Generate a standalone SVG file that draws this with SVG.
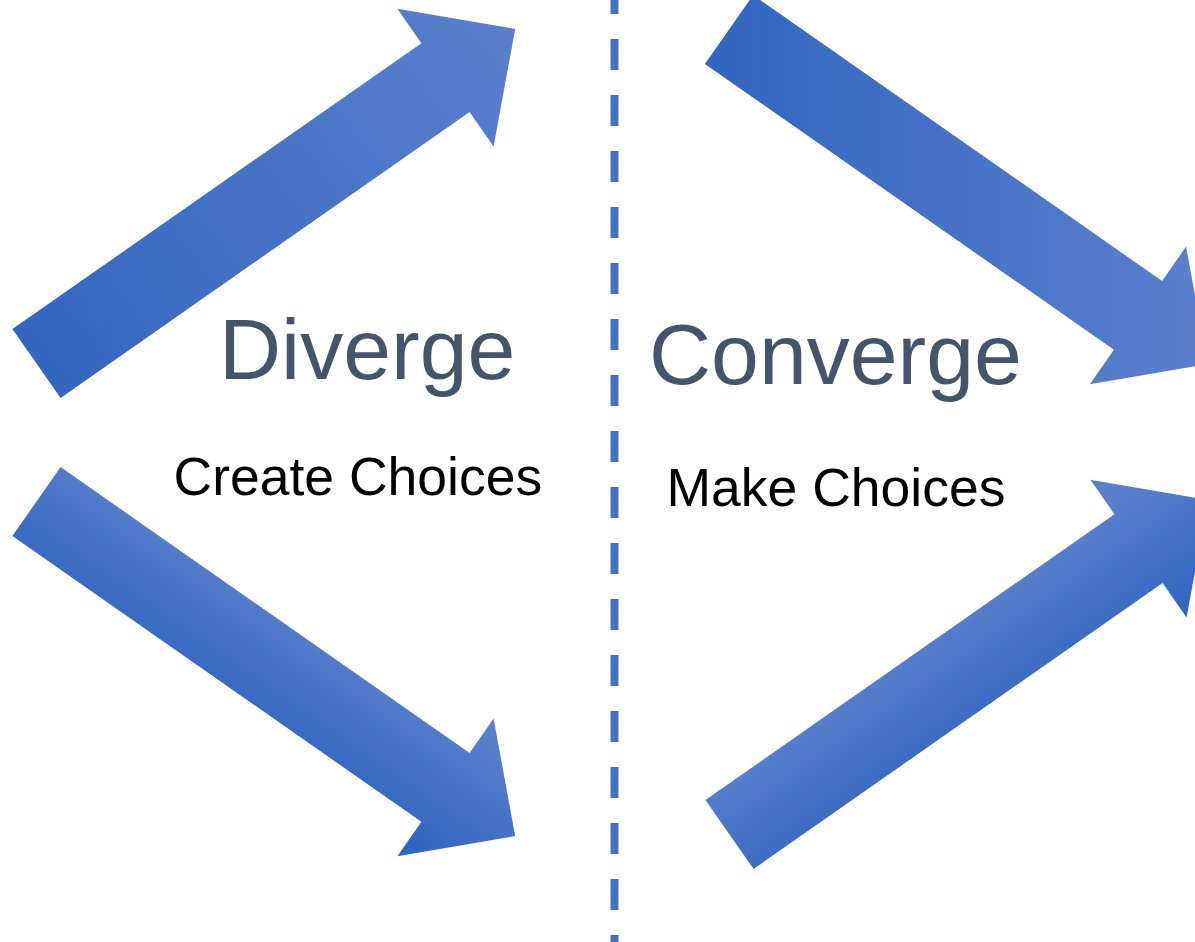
<svg xmlns="http://www.w3.org/2000/svg" width="1195" height="942" viewBox="0 0 1195 942">
  <defs>
    <style>
      .title { font-family: "Liberation Sans", Arial, sans-serif; font-size: 86px; fill: #44546A; }
      .sub { font-family: "Liberation Sans", Arial, sans-serif; font-size: 53.5px; fill: #000000; }
      .divider { stroke: #4472C4; stroke-width: 8; stroke-dasharray: 31 25; fill: none; }
    </style>
    <linearGradient id="g1" gradientUnits="userSpaceOnUse" x1="515" y1="29" x2="36" y2="398">
      <stop offset="0" stop-color="#5A80CC"/>
      <stop offset="1" stop-color="#3265C0"/>
    </linearGradient>
    <linearGradient id="g2" gradientUnits="userSpaceOnUse" x1="314" y1="614" x2="238" y2="723">
      <stop offset="0" stop-color="#5A80CC"/>
      <stop offset="1" stop-color="#3265C0"/>
    </linearGradient>
    <linearGradient id="g3" gradientUnits="userSpaceOnUse" x1="704" y1="0" x2="1200" y2="0">
      <stop offset="0" stop-color="#3265C0"/>
      <stop offset="1" stop-color="#5A80CC"/>
    </linearGradient>
    <linearGradient id="g4" gradientUnits="userSpaceOnUse" x1="931" y1="625" x2="1007" y2="734">
      <stop offset="0" stop-color="#5A80CC"/>
      <stop offset="1" stop-color="#3265C0"/>
    </linearGradient>
  </defs>
  <rect width="1195" height="942" fill="#FFFFFF"/>
  <g id="connectors">
    <line class="divider" x1="614.5" y1="-17" x2="614.5" y2="942"/>
  </g>
  <g id="arrow-diverge-up">
    <polygon fill="url(#g1)" points="12.4,329.1 421.4,43.2 397.4,8.7 515.2,28.9 493.6,146.4 469.6,112.0 60.6,397.9"/>
  </g>
  <g id="arrow-diverge-down">
    <polygon fill="url(#g2)" points="12.4,535.9 421.4,821.8 397.4,856.3 515.2,836.1 493.6,718.6 469.6,753.0 60.6,467.1"/>
  </g>
  <g id="arrow-converge-down">
    <polygon fill="url(#g3)" points="704.9,63.9 1113.9,349.8 1089.9,384.3 1207.7,364.1 1186.1,246.6 1162.1,281.0 753.1,-4.9"/>
  </g>
  <g id="arrow-converge-up">
    <polygon fill="url(#g4)" points="705.4,800.1 1114.4,514.2 1090.4,479.7 1208.2,499.9 1186.6,617.4 1162.6,583.0 753.6,868.9"/>
  </g>
  <g id="label-diverge">
    <text class="title" x="219" y="379">Diverge</text>
    <text class="sub" x="173.5" y="495">Create Choices</text>
  </g>
  <g id="label-converge">
    <text class="title" x="649" y="384">Converge</text>
    <text class="sub" x="666.5" y="506">Make Choices</text>
  </g>
</svg>
